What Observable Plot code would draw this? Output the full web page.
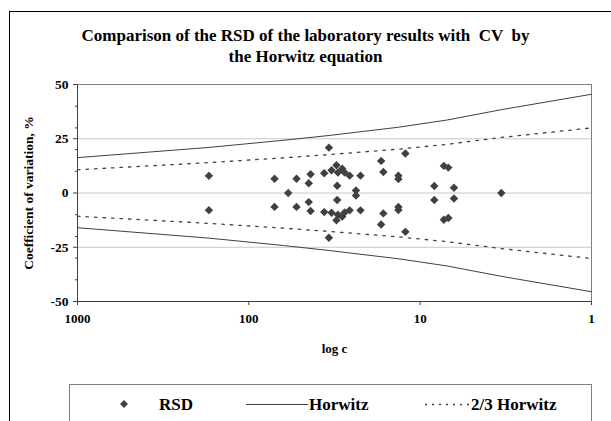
<!DOCTYPE html>
<html>
<head>
<meta charset="utf-8">
<script src="https://cdn.jsdelivr.net/npm/d3@7"></script>
<script src="https://cdn.jsdelivr.net/npm/@observablehq/plot@0.6"></script>
<style>
  html, body { margin: 0; padding: 0; background: #fff; }
  #chart { position: relative; width: 611px; height: 421px; overflow: hidden; background: #fff; font-family: "Liberation Serif", "DejaVu Serif", serif; }
  #frame { position: absolute; left: 9px; top: 11px; width: 610px; height: 430px; border: 1px solid #000; }
  #title { position: absolute; left: 0; top: 25px; width: 611px; text-align: center; font-weight: bold; font-size: 17px; line-height: 21px; white-space: pre; color: #000; }
  #plot { position: absolute; left: 0; top: 0; }
  #legend { position: absolute; left: 0; top: 0; }
</style>
</head>
<body>
<div id="chart">
  <div id="frame"></div>
  <div id="title"></div>
  <div id="plot"></div>
  <svg id="legend" width="611" height="421"></svg>
</div>
<script>
// ---- Data ----
const titleLines = ["Comparison of the RSD of the laboratory results with  CV  by", "the Horwitz equation"];
const yLabel = "Coefficient of variation, %";
const xLabel = "log c";
const xTicks = [1000, 100, 10, 1];
const yTicks = [-50, -25, 0, 25, 50];
const yMinorTicks = [-40, -30, -20, -10, 10, 20, 30, 40];
const legendLabels = ["RSD", "Horwitz", "2/3 Horwitz"];

// RSD points: concentration (x) and RSD (y)
const rsdC = [171, 171, 70.8, 70.8, 58.9, 52.7, 52.7, 43.6, 43.6, 44.7, 44.7, 36.3, 36.3, 34.1, 34.1,
  32.9, 32.9, 30.8, 30.8, 30.2, 30.2, 28.5, 28.5, 27.6, 27.6, 30.5, 30.5, 25.8, 25.8, 22.3, 22.3, 23.7, 23.7,
  16.9, 16.9, 16.4, 16.4, 12.2, 12.2, 13.4, 13.4, 13.4, 13.4, 7.27, 7.27, 6.85, 6.85, 8.27, 8.27, 6.35, 6.35, 3.36];
const rsdV = [7.9, -7.9, 6.6, -6.4, 0, 6.6, -6.4, 8.6, -8.3, 4.5, -4.2, 9.1, -8.8, 20.9, -20.6,
  10.5, -9.1, 12.8, -12.6, 9.4, -10.0, 11.2, -10.9, 9.4, -9.0, 3.3, -3.2, 8.0, -8.0, 8.0, -8.0, 1.2, -1.2,
  14.8, -14.5, 9.7, -9.4, 18.2, -17.9, 8.0, 6.4, -6.4, -7.8, 12.5, -12.3, 11.7, -11.5, 3.2, -3.2, 2.4, -2.5, 0];

// Horwitz curves read at several concentrations
const curveC = [1000, 171, 62.7, 34, 13.4, 7, 3.36, 1];
const horwitzUp = [16.3, 21.0, 24.3, 26.5, 30.3, 33.6, 38.4, 45.5];
const horwitzLow = [-16.0, -20.8, -24.2, -26.5, -30.3, -33.6, -38.4, -45.5];
const twoThirdUp = [10.7, 14.0, 16.2, 17.7, 20.2, 22.4, 25.6, 30.0];
const twoThirdLow = [-10.7, -14.0, -16.2, -17.7, -20.2, -22.4, -25.6, -30.2];

// ---- Build tables ----
const rsd = rsdC.map((c, i) => ({c, v: rsdV[i]}));
const curve = (vals) => curveC.map((c, i) => ({c, v: vals[i]}));

const ink = "#404040";

document.getElementById("title").textContent = titleLines.join("\n");

const plot = Plot.plot({
  width: 611,
  height: 421,
  marginLeft: 77,
  marginRight: 20,
  marginTop: 84,
  marginBottom: 120,
  style: {background: "transparent", overflow: "visible", fontFamily: "'Liberation Serif', serif", fontSize: "13px", fontWeight: "bold", color: "#000"},
  x: {type: "log", domain: [1000, 1]},
  y: {domain: [-50, 50]},
  marks: [
    Plot.gridY([-25, 0, 25], {stroke: "#c8c8c8", strokeOpacity: 1, strokeWidth: 1}),
    Plot.frame({stroke: "#808080"}),
    Plot.ruleX([1000], {stroke: ink}),
    Plot.ruleY([-50], {stroke: ink}),
    Plot.line(curve(horwitzUp), {x: "c", y: "v", stroke: ink, strokeWidth: 1}),
    Plot.line(curve(horwitzLow), {x: "c", y: "v", stroke: ink, strokeWidth: 1}),
    Plot.line(curve(twoThirdUp), {x: "c", y: "v", stroke: ink, strokeWidth: 1.3, strokeDasharray: "2.5,6"}),
    Plot.line(curve(twoThirdLow), {x: "c", y: "v", stroke: ink, strokeWidth: 1.3, strokeDasharray: "2.5,6"}),
    Plot.dot(rsd, {x: "c", y: "v", symbol: "diamond2", r: 3.8, fill: ink, stroke: null}),
    Plot.axisY(yMinorTicks, {tickSize: 2, tickFormat: () => "", label: null, stroke: ink}),
    Plot.axisY(yTicks, {tickSize: 4, tickPadding: 5, tickFormat: d => String(d), stroke: ink, fontSize: 13.5,
      label: yLabel, labelAnchor: "center", labelOffset: 54, labelArrow: "none"}),
    Plot.axisX(xTicks, {tickSize: 4, tickPadding: 8, tickFormat: d => String(d), stroke: ink, fontSize: 13,
      label: xLabel, labelAnchor: "center", labelOffset: 51, labelArrow: "none"})
  ]
});
document.getElementById("plot").appendChild(plot);

// ---- Legend (static key box) ----
const lg = d3.select("#legend");
lg.append("rect").attr("x", 69.5).attr("y", 384.5).attr("width", 522).attr("height", 60)
  .attr("fill", "none").attr("stroke", "#808080");
lg.append("path").attr("d", d3.symbol(d3.symbolDiamond2, 40)()).attr("transform", "translate(124,404)").attr("fill", ink);
lg.append("line").attr("x1", 246).attr("x2", 308).attr("y1", 404.5).attr("y2", 404.5).attr("stroke", ink);
lg.append("line").attr("x1", 425).attr("x2", 469).attr("y1", 404.5).attr("y2", 404.5).attr("stroke", ink).attr("stroke-width", 1.3).attr("stroke-dasharray", "2,5");
const lt = [[159, legendLabels[0]], [309, legendLabels[1]], [471, legendLabels[2]]];
lt.forEach(([x, t]) => lg.append("text").attr("x", x).attr("y", 410).attr("font-family", "'Liberation Serif', serif")
  .attr("font-size", 17).attr("font-weight", "bold").attr("fill", "#000").text(t));
</script>
</body>
</html>
